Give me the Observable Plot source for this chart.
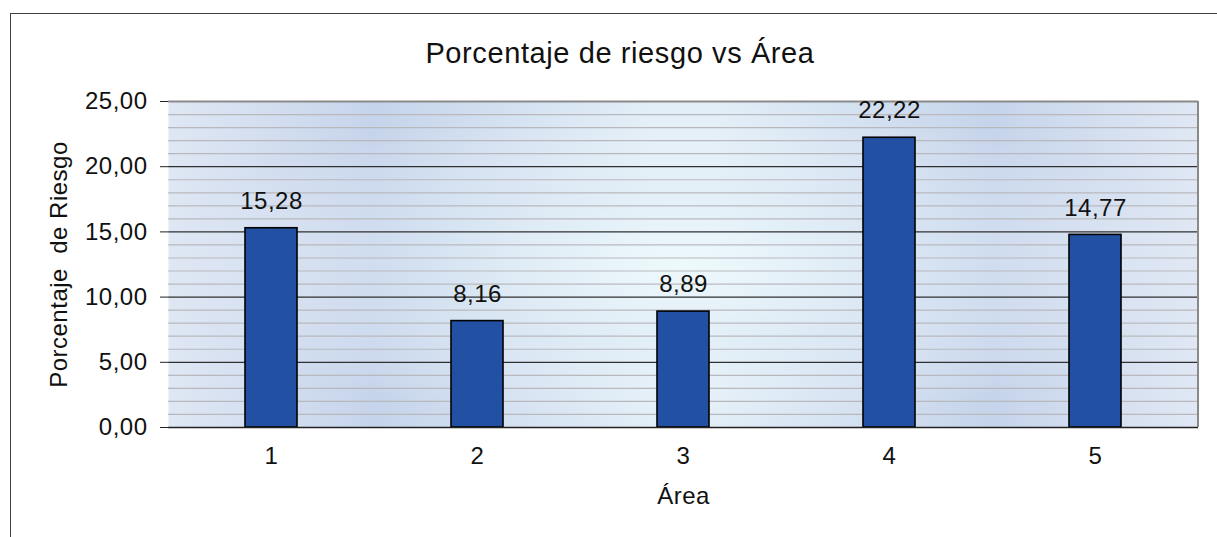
<!DOCTYPE html>
<html>
<head>
<meta charset="utf-8">
<script src="https://cdn.jsdelivr.net/npm/d3@7"></script>
<script src="https://cdn.jsdelivr.net/npm/@observablehq/plot@0.6"></script>
<style>
  html, body { margin: 0; padding: 0; background: #fff; }
  body { width: 1217px; height: 537px; position: relative; overflow: hidden; font-family: "Liberation Sans", Arial, sans-serif; }
  #border { position: absolute; left: 10px; top: 13px; width: 1300px; height: 600px; border-top: 1.5px solid #404040; border-left: 1.5px solid #404040; }
  #title { position: absolute; left: 10px; width: 1220px; top: 36px; height: 34px; text-align: center; font-size: 29px; letter-spacing: 0.6px; color: #111; line-height: 34px; }
  #chart { position: absolute; left: 0; top: 80px; }
</style>
</head>
<body>
<div id="border"></div>
<div id="title">Porcentaje de riesgo vs Área</div>
<div id="chart"></div>
<script>
const areas = [1, 2, 3, 4, 5];
const riesgo = [15.28, 8.16, 8.89, 22.22, 14.77];
const yTicks = [0, 5, 10, 15, 20, 25];
const minorTicks = d3.range(1, 25).filter(d => d % 5 !== 0);

const data = areas.map((a, i) => ({area: a, valor: riesgo[i]}));
const fmt = d => d.toFixed(2).replace(".", ",");

const plot = Plot.plot({
  width: 1217,
  height: 457,
  marginLeft: 168,
  marginRight: 19,
  marginTop: 21,
  marginBottom: 110,
  style: {fontFamily: "'Liberation Sans', Arial, sans-serif", color: "#111", background: "transparent", letterSpacing: "0.5px"},
  x: {type: "band", domain: areas, paddingInner: 0.75, paddingOuter: 0.375, align: 0.5},
  y: {domain: [0, 25]},
  marks: [
    Plot.frame({fill: "url(#bgLinear)", stroke: null}),
    Plot.frame({fill: "url(#bgRadial)", stroke: null}),
    Plot.ruleY(minorTicks, {stroke: "#b9b9bd", strokeWidth: 1.2}),
    Plot.ruleY(yTicks.filter(d => d > 0 && d < 25), {stroke: "#303030", strokeWidth: 1.2}),
    Plot.ruleY([25], {stroke: "#8a8a8a", strokeWidth: 2}),
    Plot.barY(data, {x: "area", y: "valor", fill: "#2251a3", stroke: "#000", strokeWidth: 1.6}),
    Plot.text(data, {x: "area", y: "valor", text: d => fmt(d.valor), dy: -27, fontSize: 24, fill: "#111"}),
    Plot.axisY({ticks: yTicks, tickFormat: fmt, tickSize: 8, tickPadding: 13, fontSize: 24, stroke: "#222",
      label: "Porcentaje  de Riesgo", labelAnchor: "center", labelOffset: 119, labelArrow: "none"}),
    Plot.axisX({tickSize: 0, tickPadding: 19, fontSize: 24, label: "Área", labelAnchor: "center", labelOffset: 76, labelArrow: "none"}),
    Plot.ruleY([0], {stroke: "#222", strokeWidth: 1.6})
  ]
});

// gradients
const svg = d3.select(plot);
const defs = svg.insert("defs", ":first-child");
const lin = defs.append("linearGradient").attr("id", "bgLinear").attr("x1", "0").attr("x2", "1").attr("y1", "0").attr("y2", "0");
[[0, "#dfe7f4"], [0.2, "#c6d4eb"], [0.47, "#e2eef7"], [0.53, "#e2eef7"], [0.8, "#c6d4eb"], [1, "#e0e8f4"]]
  .forEach(([o, c]) => lin.append("stop").attr("offset", o).attr("stop-color", c));
const rad = defs.append("radialGradient").attr("id", "bgRadial").attr("cx", "0.5").attr("cy", "0.5").attr("r", "0.5");
[[0, "#eefafc", 0.9], [0.5, "#e6f2f8", 0.35], [1, "#ffffff", 0]]
  .forEach(([o, c, a]) => rad.append("stop").attr("offset", o).attr("stop-color", c).attr("stop-opacity", a));

// right border of plot area
svg.append("line").attr("x1", 1198).attr("x2", 1198).attr("y1", 21).attr("y2", 347).attr("stroke", "#8a8a8a").attr("stroke-width", 2);

document.getElementById("chart").appendChild(plot);
</script>
</body>
</html>
